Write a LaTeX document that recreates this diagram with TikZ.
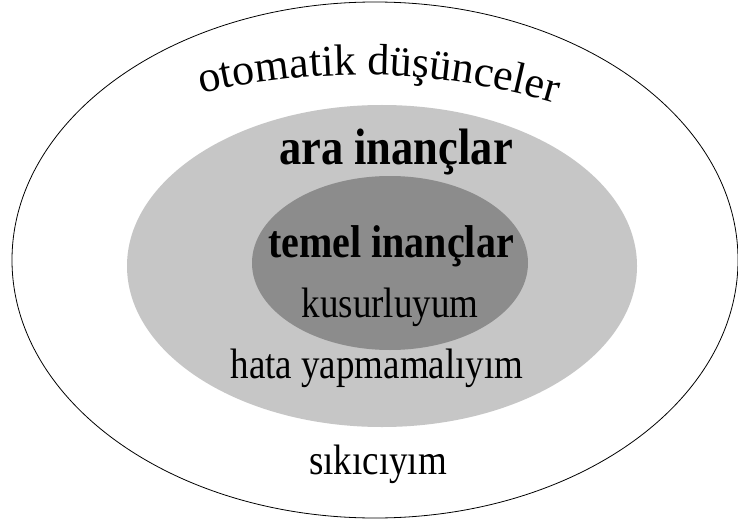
\documentclass[tikz,border=0pt]{standalone}
\usepackage{fontspec}
\setmainfont{Liberation Serif}
\usetikzlibrary{decorations.text}
\definecolor{midgray}{RGB}{198,198,198}
\definecolor{coregray}{RGB}{140,140,140}
\newcommand\arcfont{\fontsize{44}{52}\selectfont}
\newcommand\tall[1]{\scalebox{1}[1.15]{#1}}
\tikzset{
  label/.style={anchor=base, inner sep=0pt, font=\fontsize{37}{44}\selectfont},
  head/.style={anchor=base, inner sep=0pt, font=\bfseries},
  ring/.style={draw=black, line width=0.8pt},
}
\begin{document}
\begin{tikzpicture}[x=1pt,y=1pt]
\useasboundingbox (0,0) rectangle (738,523);
\fill[white] (0,0) rectangle (738,523);
\draw[ring, fill=white] (375,263) ellipse [x radius=363, y radius=258];
\fill[midgray] (382,257) ellipse [x radius=255, y radius=161];
\fill[coregray] (390,260) ellipse [x radius=138, y radius=87];
\path[decorate, decoration={text along path, text align=center,
  text={|\arcfont|otomatik düşünceler}}]
  (361,-240) ++(104.5:688) arc[start angle=104.5, end angle=72.5, radius=688];
\node[head, font=\fontsize{44.5}{52}\selectfont\bfseries] (ara) at (396,358) {\tall{ara inançlar}};
\node[head, font=\fontsize{40}{48}\selectfont\bfseries] (temel) at (391,266) {\tall{temel inançlar}};
\node[label] (kusur) at (390,206) {\tall{kusurluyum}};
\node[label] (hata) at (377,145) {\tall{hata yapmamalıyım}};
\node[label] (sikici) at (378,49) {\tall{sıkıcıyım}};
\end{tikzpicture}
\end{document}
